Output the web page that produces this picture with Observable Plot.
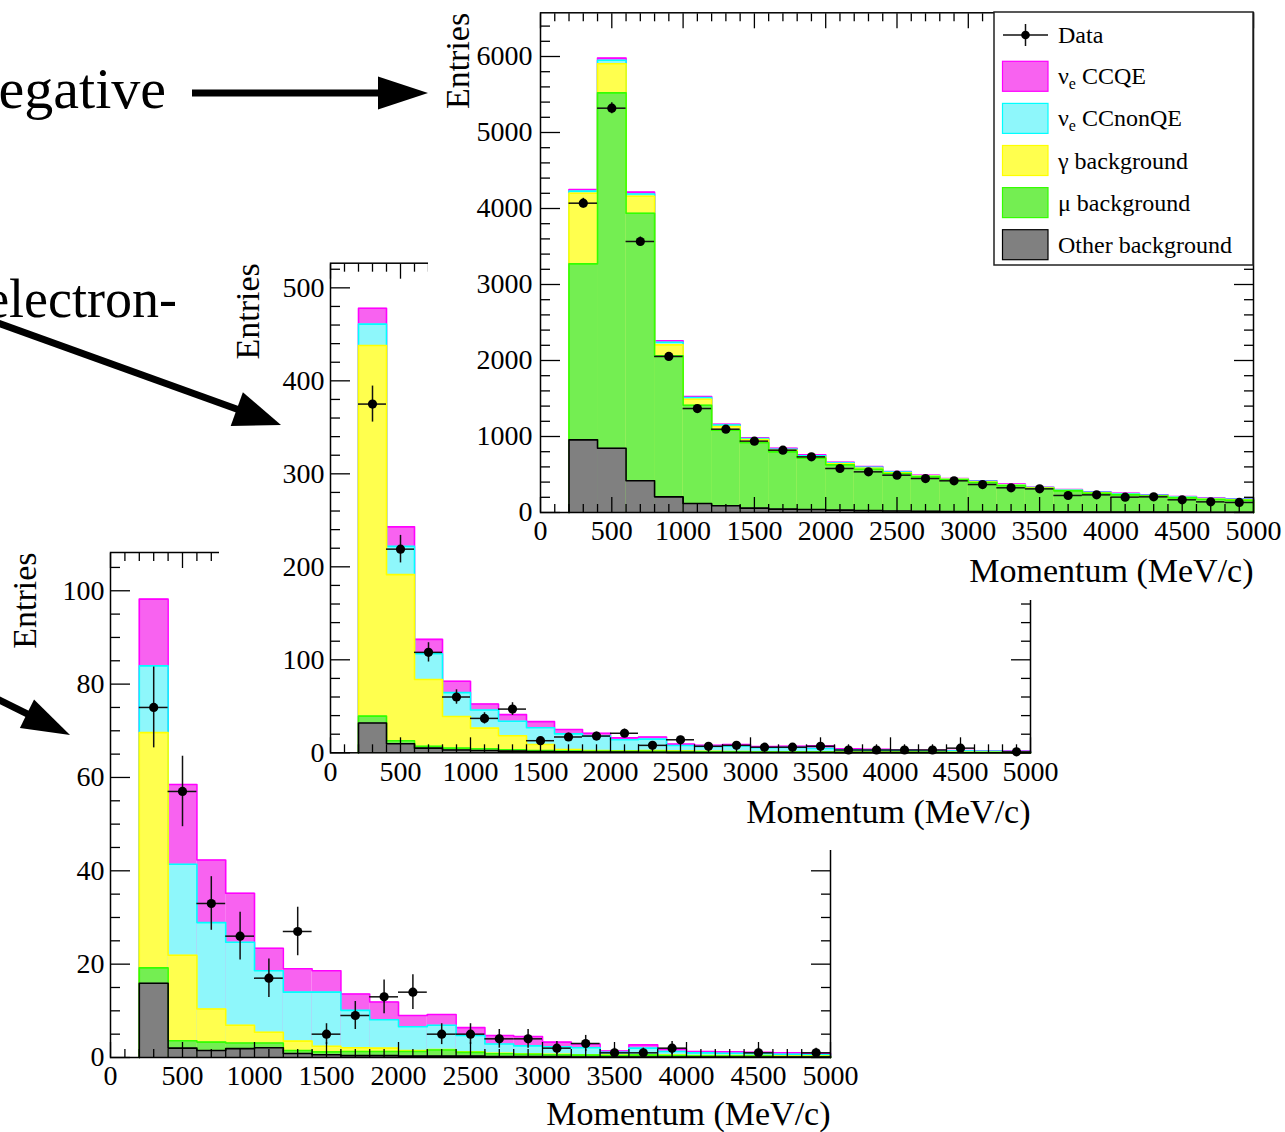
<!DOCTYPE html>
<html><head><meta charset="utf-8">
<script src="https://cdn.jsdelivr.net/npm/d3@7"></script>
<script src="https://cdn.jsdelivr.net/npm/@observablehq/plot@0.6"></script>
<style>
html,body{margin:0;padding:0;background:#fff;}
body{width:1285px;height:1132px;position:relative;overflow:hidden;font-family:"Liberation Serif","Times New Roman",serif;}
.panel{position:absolute;}
.panel svg{display:block;max-width:none !important;}
#legend,#deco{position:absolute;pointer-events:none;}
</style></head><body>
<div id="pBottom" class="panel" style="left:0;top:530px;width:1285px;height:602px;z-index:1"></div>
<div id="pMiddle" class="panel" style="left:219px;top:240px;width:1066px;height:610px;z-index:2"></div>
<div id="pTop" class="panel" style="left:428px;top:0;width:857px;height:600px;z-index:3"></div>
<svg id="legend" width="270" height="262" style="left:990px;top:10px;z-index:4"></svg>
<svg id="deco" width="1285" height="1132" style="left:0;top:0;z-index:5"></svg>
<script>
// ---------- bins (MeV/c) ----------
const binLow  = [200,400,600,800,1000,1200,1400,1600,1800,2000,2200,2400,2600,2800,3000,3200,3400,3600,3800,4000,4200,4400,4600,4800];
const binHigh = [400,600,800,1000,1200,1400,1600,1800,2000,2200,2400,2600,2800,3000,3200,3400,3600,3800,4000,4200,4400,4600,4800,5000];
const xTickLabels = [0,500,1000,1500,2000,2500,3000,3500,4000,4500,5000];

// stacking order bottom -> top
const componentNames = ["Other background","μ background","γ background","νe CCnonQE","νe CCQE"];
const fillColors = ["#808080","#74ee52","#ffff4e","#8ef7fb","#f862f0"];
const lineColors = ["#000000","#33ff00","#ffff00","#00ffff","#ff00ff"];

// ---------- top panel: negative ----------
const topOther = [956,846,417,206,118,88,57,44,40,31,25,20,17,14,12,10,9,8,7,6,5,5,4,4];
const topMu    = [2316,4676,3521,1855,1294,995,860,754,675,596,545,493,452,416,383,341,307,277,247,226,210,188,167,158];
const topGamma = [929,382,224,145,79,49,44,22,16,14,12,10,8,6,6,6,5,5,5,5,4,4,4,4];
const topNonQE = [27,46,28,34,21,18,11,13,14,11,12,8,7,5,8,8,6,7,6,8,6,7,7,7];
const topCCQE  = [22,28,25,19,14,12,10,13,14,10,11,8,7,6,8,8,6,6,7,9,7,7,7,7];
const topData  = [4070,5320,3566,2053,1368,1096,939,820,732,579,535,491,447,417,368,325,311,224,232,202,206,167,140,132];
const topYTicks = [0,1000,2000,3000,4000,5000,6000];

// ---------- middle panel: electron-like ----------
const midOther = [32,9.8,5,3,2.5,1.8,1.3,1.0,0.8,0.7,0.6,0.5,0.4,0.4,0.3,0.3,0.3,0.2,0.2,0.2,0.2,0.1,0.1,0.1];
const midMu    = [7.4,3.2,2,2,1.8,1.4,1.2,1.0,0.9,0.8,0.9,0.8,0.7,0.6,0.6,0.5,0.4,0.4,0.4,0.3,0.3,0.3,0.3,0.2];
const midGamma = [398.6,178.6,71.8,34,22.2,15.1,6.5,1.6,0.8,0.5,1.0,0.5,0.4,0.4,0.3,0.3,0.3,0.3,0.2,0.2,0.1,0.2,0.1,0.2];
const midNonQE = [23,30.4,27.7,25.7,19.5,15.7,18,16.8,15.5,12,12.2,6.1,5.3,6.1,4.2,4.6,3.7,2.4,2.0,1.6,1.4,1.3,1.2,0.9];
const midCCQE  = [17,21,15.5,12.3,6.5,7,6.5,4.6,3,2,2.3,1.4,1.2,1.5,1.4,1.4,2.8,1.1,0.9,0.7,0.6,0.6,0.5,0.5];
const midData  = [375,219,108,60,37,47,13,17,18,21,8,14,7,8,6,6,7,3,3,3,3,5,0,1];
const midYTicks = [0,100,200,300,400,500];

// ---------- bottom panel ----------
const botOther = [15.9,2.0,1.5,1.9,2.1,0.85,0.6,0.4,0.4,0.3,0.3,0.3,0.2,0.2,0.2,0.1,0.1,0.1,0.1,0.1,0.1,0.1,0.1,0.1];
const botMu    = [3.3,1.6,1.8,1.2,1.0,0.65,0.6,0.9,0.9,1.0,1.3,0.8,0.6,0.5,0.4,0.4,0.3,0.4,0.3,0.2,0.2,0.2,0.1,0.1];
const botGamma = [50.4,18.3,7.1,3.8,2.3,2.0,1.2,0.8,0.7,0.2,0.1,0.1,0.1,0.1,0.1,0.1,0.1,0.1,0.1,0.1,0.1,0.1,0.1,0.1];
const botNonQE = [14.3,19.5,18.5,17.8,13.2,10.5,11.6,8.0,6.1,5.1,5.2,3.5,2.0,1.7,1.6,1.5,0.6,1.4,0.8,0.6,0.5,0.4,0.4,0.3];
const botCCQE  = [14.3,17.1,13.4,10.5,4.8,5.0,4.6,3.5,3.8,2.4,2.3,1.7,1.8,2.0,1.0,0.8,0.3,0.7,0.5,0.3,0.3,0.3,0.3,0.3];
const botData  = [75,57,33,26,17,27,5,9,13,14,5,5,4,4,2,3,1,1,2,0,0,1,0,1];
const botYTicks = [0,20,40,60,80,100];

const FONT = "'Liberation Serif','Times New Roman',serif";

function buildPanel(o) {
  const layers = o.layers;
  const cum = [];
  layers.forEach((arr, k) => cum.push(arr.map((v, i) => v + (k ? cum[k-1][i] : 0))));
  const marks = [];
  for (let k = layers.length - 1; k >= 0; k--) {
    const rows = binLow.map((lo, i) => ({lo, hi: binHigh[i], base: 0, top: cum[k][i]}));
    marks.push(Plot.rect(rows, {x1: "lo", x2: "hi", y1: "base", y2: "top", fill: fillColors[k]}));
    const outline = [{x: binLow[0], y: 0}];
    rows.forEach(r => outline.push({x: r.lo, y: r.top}, {x: r.hi, y: r.top}));
    outline.push({x: binHigh[binHigh.length - 1], y: 0});
    marks.push(Plot.line(outline, {x: "x", y: "y", stroke: lineColors[k], strokeWidth: 1.6}));
  }
  const pts = binLow.map((lo, i) => ({lo, hi: binHigh[i], mid: (lo + binHigh[i]) / 2, n: o.data[i]})).filter(d => d.n > 0);
  marks.push(Plot.ruleY(pts, {y: "n", x1: "lo", x2: "hi", stroke: "#111", strokeWidth: 1.5}));
  marks.push(Plot.ruleX(pts, {x: "mid", y1: d => d.n - Math.sqrt(d.n), y2: d => d.n + Math.sqrt(d.n), stroke: "#111", strokeWidth: 1.5}));
  marks.push(Plot.dot(pts, {x: "mid", y: "n", r: 4.6, fill: "#000", stroke: "none"}));

  const xMinor = d3.range(0, 5001, 100).filter(v => v % 500 !== 0);
  const yStepMinor = o.yMinorStep, yStepMajor = o.yTicks[1];
  const yMinor = d3.range(0, o.yMax, yStepMinor).filter(v => Math.abs(v / yStepMajor - Math.round(v / yStepMajor)) > 1e-6);
  const none = () => "";
  marks.push(Plot.frame({stroke: "#000", strokeWidth: 1.5}));
  for (const anchor of ["bottom", "top"]) {
    marks.push(Plot.axisX({anchor, ticks: xMinor, tickSize: -8, tickFormat: none, label: null, strokeWidth: 1.3}));
    marks.push(Plot.axisX({anchor, ticks: xTickLabels, tickSize: -15, tickFormat: none, label: null, strokeWidth: 1.3}));
  }
  for (const anchor of ["left", "right"]) {
    marks.push(Plot.axisY({anchor, ticks: yMinor, tickSize: -10, tickFormat: none, label: null, strokeWidth: 1.3}));
    marks.push(Plot.axisY({anchor, ticks: o.yTicks, tickSize: -20, tickFormat: none, label: null, strokeWidth: 1.3}));
  }
  marks.push(Plot.axisX({anchor: "bottom", ticks: xTickLabels, tickSize: 0, tickPadding: 8, tickFormat: d => `${d}`, label: null, fontSize: 28, fill: "#000"}));
  marks.push(Plot.axisY({anchor: "left", ticks: o.yTicks, tickSize: 0, tickPadding: o.yPad, tickFormat: d => `${d}`, label: null, fontSize: 28, fill: "#000"}));
  marks.push(Plot.text(["Entries"], {text: d => d, frameAnchor: "top-left", rotate: -90, textAnchor: "end", lineAnchor: "middle", dx: o.titleDx, fontSize: 34, fill: "#000"}));
  marks.push(Plot.text(["Momentum (MeV/c)"], {text: d => d, frameAnchor: "bottom-right", textAnchor: "end", lineAnchor: "middle", dy: o.xTitleDy, fontSize: 34, fill: "#000"}));

  const svg = Plot.plot({
    width: o.width, height: o.height,
    marginLeft: o.m[0], marginTop: o.m[1], marginRight: o.m[2], marginBottom: o.m[3],
    x: {domain: [0, 5000]}, y: {domain: [0, o.yMax]},
    style: {background: "white", fontFamily: FONT, fontSize: "28px", color: "#000"},
    marks
  });
  document.getElementById(o.id).appendChild(svg);
}

buildPanel({id: "pBottom", width: 1285, height: 602, m: [110, 22, 455, 75], yMax: 108.2, yTicks: botYTicks, yMinorStep: 5, yPad: 6, titleDx: -85, xTitleDy: 57,
  layers: [botOther, botMu, botGamma, botNonQE, botCCQE], data: botData});
buildPanel({id: "pMiddle", width: 1066, height: 610, m: [111, 22.7, 255, 97.7], yMax: 526.5, yTicks: midYTicks, yMinorStep: 20, yPad: 6, titleDx: -82, xTitleDy: 59,
  layers: [midOther, midMu, midGamma, midNonQE, midCCQE], data: midData});
buildPanel({id: "pTop", width: 857, height: 600, m: [112, 12.3, 32, 88], yMax: 6575, yTicks: topYTicks, yMinorStep: 200, yPad: 8, titleDx: -82, xTitleDy: 59,
  layers: [topOther, topMu, topGamma, topNonQE, topCCQE], data: topData});

// ---------- legend ----------
const legendEntries = [
  {main: "ν", sub: "e", rest: " CCQE", k: 4},
  {main: "ν", sub: "e", rest: " CCnonQE", k: 3},
  {main: "γ background", k: 2},
  {main: "μ background", k: 1},
  {main: "Other background", k: 0}
];
const lg = d3.select("#legend");
lg.append("rect").attr("x", 4).attr("y", 2).attr("width", 259).attr("height", 253)
  .attr("fill", "#fff").attr("stroke", "#222").attr("stroke-width", 1.5);
// Data entry
lg.append("line").attr("x1", 13).attr("x2", 58).attr("y1", 25).attr("y2", 25).attr("stroke", "#111").attr("stroke-width", 1.5);
lg.append("line").attr("x1", 35.5).attr("x2", 35.5).attr("y1", 14).attr("y2", 36).attr("stroke", "#111").attr("stroke-width", 1.5);
lg.append("circle").attr("cx", 35.5).attr("cy", 25).attr("r", 4.3).attr("fill", "#000");
lg.append("text").attr("x", 68).attr("y", 33).attr("font-family", FONT).attr("font-size", 24).text("Data");
legendEntries.forEach((e, j) => {
  const cy = 66.3 + j * 42.1;
  lg.append("rect").attr("x", 12.5).attr("y", cy - 15).attr("width", 45.5).attr("height", 30)
    .attr("fill", fillColors[e.k]).attr("stroke", lineColors[e.k]).attr("stroke-width", 1.2);
  const t = lg.append("text").attr("x", 68).attr("y", cy + 8).attr("font-family", FONT).attr("font-size", 24);
  t.append("tspan").text(e.main);
  if (e.sub) {
    t.append("tspan").attr("font-size", 16).attr("dy", 5).text(e.sub);
    t.append("tspan").attr("dy", -5).text(e.rest);
  }
});

// ---------- slide decorations (text fragments and arrows) ----------
const deco = d3.select("#deco");
const slideTexts = [
  {t: "egative", x: 166, y: 108, size: 58},
  {t: "electron-", x: 177, y: 317, size: 54}
];
slideTexts.forEach(s => deco.append("text").attr("x", s.x).attr("y", s.y).attr("text-anchor", "end")
  .attr("font-family", FONT).attr("font-size", s.size).attr("fill", "#000").text(s.t));
function arrow(x0, y0, x1, y1, headLen, halfW, w) {
  const dx = x1 - x0, dy = y1 - y0, L = Math.hypot(dx, dy), ux = dx / L, uy = dy / L;
  const bx = x1 - ux * headLen, by = y1 - uy * headLen;
  deco.append("line").attr("x1", x0).attr("y1", y0).attr("x2", bx + ux * 2).attr("y2", by + uy * 2)
    .attr("stroke", "#000").attr("stroke-width", w);
  deco.append("polygon").attr("points",
    `${x1},${y1} ${bx - uy * halfW},${by + ux * halfW} ${bx + uy * halfW},${by - ux * halfW}`).attr("fill", "#000");
}
arrow(192, 93, 428, 93, 50, 16.5, 7);
arrow(-5, 322, 281, 425, 47, 18, 7);
arrow(-5, 698, 70, 735, 48, 16, 7);
</script>
</body></html>
